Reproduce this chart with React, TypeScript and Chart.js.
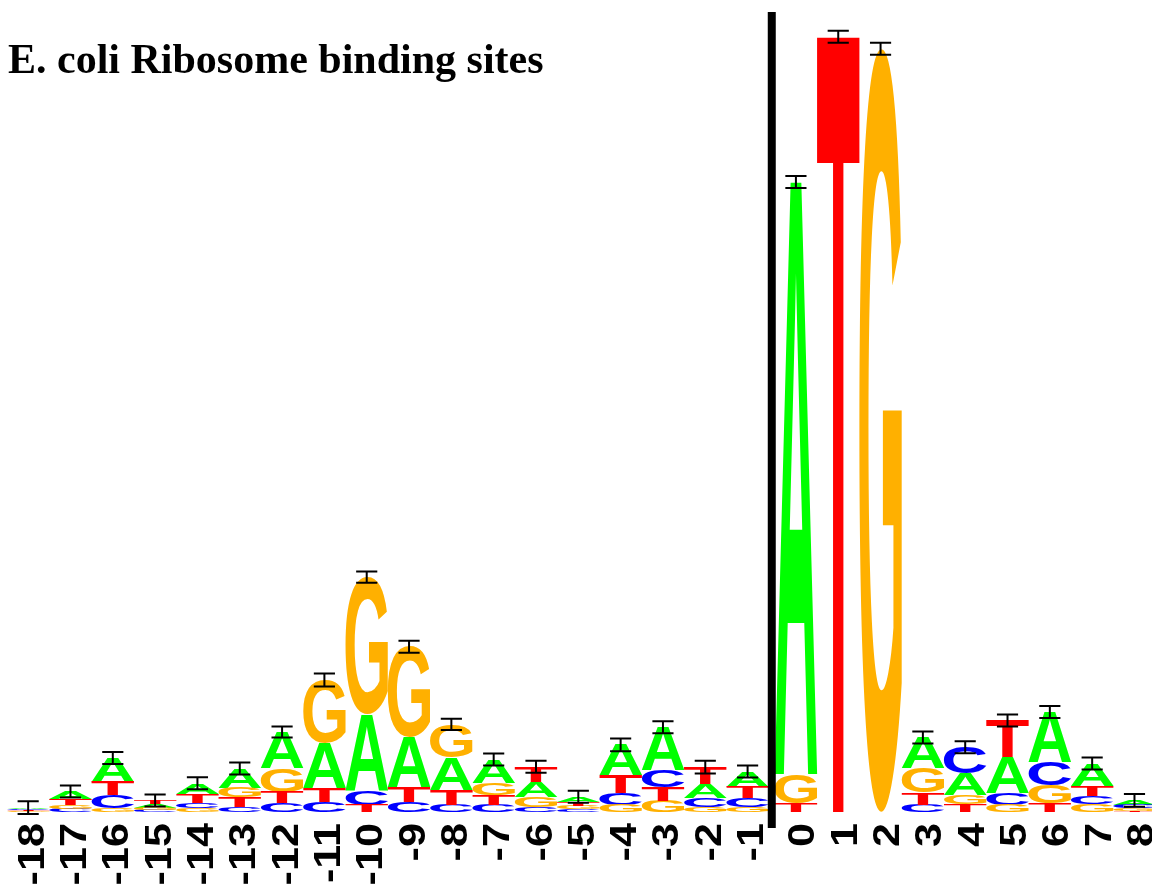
import React, { useEffect, useRef } from "react";
import { Chart, registerables } from "chart.js";

Chart.register(...registerables);

// ---- data (information content in bits) ----
const title = "E. coli Ribosome binding sites";
const positions = [-18, -17, -16, -15, -14, -13, -12, -11, -10, -9, -8, -7, -6, -5, -4, -3, -2, -1, 0, 1, 2, 3, 4, 5, 6, 7, 8];
const tickLabels = ["-18", "-17", "-16", "-15", "-14", "-13", "-12", "-11", "-10", "-9", "-8", "-7", "-6", "-5", "-4", "-3", "-2", "-1", "0", "1", "2", "3", "4", "5", "6", "7", "8"];
const letters = ["A", "C", "G", "T"];
const letterColors = ["#00ff00", "#0000ff", "#ffb000", "#ff0000"];
const bitsA = [0.004, 0.019, 0.06, 0.008, 0.026, 0.048, 0.09, 0.112, 0.188, 0.125, 0.081, 0.058, 0.037, 0.012, 0.075, 0.107, 0.035, 0.038, 1.48, 0, 0, 0.075, 0.055, 0.09, 0.125, 0.055, 0.012];
const bitsC = [0.003, 0.008, 0.032, 0.005, 0.012, 0.012, 0.022, 0.025, 0.038, 0.025, 0.018, 0.018, 0.012, 0.007, 0.03, 0.043, 0.023, 0.023, 0, 0, 0, 0.018, 0.065, 0.03, 0.058, 0.021, 0.008];
const bitsG = [0.002, 0.009, 0.01, 0.006, 0.011, 0.025, 0.06, 0.158, 0.343, 0.225, 0.082, 0.03, 0.025, 0.009, 0.018, 0.027, 0.012, 0.012, 0.073, 0, 1.908, 0.063, 0.022, 0.018, 0.045, 0.02, 0.007];
const bitsT = [0.002, 0.015, 0.033, 0.01, 0.023, 0.024, 0.028, 0.035, 0.018, 0.038, 0.038, 0.025, 0.039, 0.01, 0.045, 0.035, 0.042, 0.028, 0.022, 1.938, 0, 0.03, 0.02, 0.091, 0.022, 0.025, 0.002];
const errBits = [0.016, 0.015, 0.015, 0.015, 0.015, 0.015, 0.014, 0.016, 0.014, 0.015, 0.014, 0.015, 0.015, 0.015, 0.016, 0.015, 0.016, 0.015, 0.015, 0.015, 0.015, 0.015, 0.015, 0.015, 0.015, 0.015, 0.016];

const letterBits = [bitsA, bitsC, bitsG, bitsT];

// ---- layout constants ----
const W = 1152;
const H = 884;
const PAD_LEFT = 7;
const COL_PX = 42.32;
const SPAN = (W - PAD_LEFT) / COL_PX;
const GAP = 6 / COL_PX;
const GLYPH_PX = 800;

function buildDatasets() {
  const ranges: { [k: string]: Array<[number, number] | null> } = {};
  letters.forEach((l) => (ranges[l] = []));
  positions.forEach((_, i) => {
    const order = letters
      .map((l, li) => ({ l, v: letterBits[li][i] }))
      .sort((a, b) => a.v - b.v);
    let acc = 0;
    order.forEach(({ l, v }) => {
      ranges[l][i] = v > 0 ? [acc, acc + v] : null;
      acc += v;
    });
  });
  const sets: any[] = [];
  (["xl", "xr"] as const).forEach((axis) => {
    letters.forEach((l) => {
      const data: any[] = [];
      positions.forEach((p, i) => {
        const onSide = axis === "xl" ? p < 0 : p >= 0;
        const r = ranges[l][i];
        if (onSide && r) data.push({ x: p, y: r });
      });
      sets.push({
        label: l,
        xAxisID: axis,
        yAxisID: "y",
        data,
        grouped: false,
        barPercentage: 1,
        categoryPercentage: 1,
        backgroundColor: "rgba(0,0,0,0)",
        borderWidth: 0,
      });
    });
  });
  return sets;
}

const glyphCache: { [k: string]: { gl: number; ga: number; gw: number; gh: number } } = {};

function glyphMetrics(ctx: CanvasRenderingContext2D, ch: string) {
  if (glyphCache[ch]) return glyphCache[ch];
  // measure ink bounds by rasterising the glyph on an offscreen canvas
  const size = GLYPH_PX;
  const c = document.createElement("canvas");
  c.width = size * 1.5;
  c.height = size * 1.5;
  const g = c.getContext("2d")!;
  g.font = `bold ${size}px "Liberation Sans", Arial, sans-serif`;
  g.textAlign = "left";
  g.textBaseline = "alphabetic";
  g.fillStyle = "#000";
  const ox = size * 0.2;
  const oy = size * 1.2;
  g.fillText(ch, ox, oy);
  const img = g.getImageData(0, 0, c.width, c.height).data;
  let minX = c.width, maxX = -1, minY = c.height, maxY = -1;
  for (let y = 0; y < c.height; y++) {
    for (let x = 0; x < c.width; x++) {
      if (img[(y * c.width + x) * 4 + 3] > 127) {
        if (x < minX) minX = x;
        if (x > maxX) maxX = x;
        if (y < minY) minY = y;
        if (y > maxY) maxY = y;
      }
    }
  }
  const res = {
    gl: ox - minX,
    ga: oy - minY,
    gw: maxX - minX + 1,
    gh: maxY - minY + 1,
  };
  glyphCache[ch] = res;
  return res;
}

function drawGlyph(ctx: CanvasRenderingContext2D, ch: string, color: string, x: number, y: number, w: number, h: number) {
  if (h <= 0.05 || w <= 0) return;
  const m = glyphMetrics(ctx, ch);
  ctx.save();
  ctx.font = `bold ${GLYPH_PX}px "Liberation Sans", Arial, sans-serif`;
  ctx.textAlign = "left";
  ctx.textBaseline = "alphabetic";
  ctx.translate(x, y);
  ctx.scale(w / m.gw, h / m.gh);
  ctx.fillStyle = color;
  ctx.fillText(ch, m.gl, m.ga);
  ctx.restore();
}

const logoPlugin = {
  id: "logoPlugin",
  afterDatasetsDraw(chart: any) {
    const ctx: CanvasRenderingContext2D = chart.ctx;
    chart.data.datasets.forEach((ds: any, di: number) => {
      const meta = chart.getDatasetMeta(di);
      const color = letterColors[letters.indexOf(ds.label)];
      meta.data.forEach((el: any) => {
        const p = el.getProps(["x", "y", "base", "width"], true);
        const top = Math.min(p.y, p.base);
        const bottom = Math.max(p.y, p.base);
        drawGlyph(ctx, ds.label, color, p.x - p.width / 2, top, p.width, bottom - top);
      });
    });

    // error bars
    const yScale = chart.scales.y;
    ctx.save();
    ctx.strokeStyle = "#000";
    ctx.lineWidth = 2;
    positions.forEach((p, i) => {
      const axis = p < 0 ? chart.scales.xl : chart.scales.xr;
      const total = letterBits.reduce((s, arr) => s + arr[i], 0);
      const x = axis.getPixelForValue(p);
      const half = (axis.getPixelForValue(p + 1) - x) * 0.25;
      const yHi = yScale.getPixelForValue(total + errBits[i]);
      const yLo = yScale.getPixelForValue(total - errBits[i]);
      ctx.beginPath();
      ctx.moveTo(x, yHi);
      ctx.lineTo(x, yLo);
      ctx.moveTo(x - half, yHi);
      ctx.lineTo(x + half, yHi);
      ctx.moveTo(x - half, yLo);
      ctx.lineTo(x + half, yLo);
      ctx.stroke();
    });
    ctx.restore();
  },
  afterDraw(chart: any) {
    const ctx: CanvasRenderingContext2D = chart.ctx;
    const area = chart.chartArea;
    const xl = chart.scales.xl;
    const xr = chart.scales.xr;

    const xLine = (xl.getPixelForValue(-0.5) + xr.getPixelForValue(-0.5)) / 2;
    ctx.save();
    ctx.fillStyle = "#000";
    ctx.fillRect(xLine - 4, area.top, 8, area.bottom - area.top + 16);
    ctx.restore();

    ctx.save();
    ctx.fillStyle = "#000";
    ctx.font = 'bold 42px "Liberation Serif", "Times New Roman", serif';
    ctx.textAlign = "left";
    ctx.textBaseline = "alphabetic";
    ctx.fillText(title, 8, 73);
    ctx.restore();

    positions.forEach((p, i) => {
      const axis = p < 0 ? xl : xr;
      const off = p < 0 ? 2.5 : 5.5;
      const x = axis.getPixelForValue(p) + off + 13;
      ctx.save();
      ctx.translate(x, area.bottom + 11);
      ctx.rotate(-Math.PI / 2);
      ctx.scale(1.2, 1);
      ctx.fillStyle = "#000";
      ctx.font = 'bold 36px "Liberation Sans", Arial, sans-serif';
      ctx.textAlign = "right";
      ctx.textBaseline = "alphabetic";
      ctx.fillText(tickLabels[i], 0, 0);
      ctx.restore();
    });
  },
};

const hiddenLinear = (min: number, max: number) => ({
  type: "linear",
  display: false,
  offset: false,
  bounds: "data",
  grace: 0,
  min,
  max,
  grid: { offset: false, display: false },
  ticks: { display: false },
});

export default function App() {
  const ref = useRef<HTMLCanvasElement | null>(null);
  useEffect(() => {
    if (!ref.current) return;
    const chart = new Chart(ref.current, {
      type: "bar",
      data: { datasets: buildDatasets() },
      options: {
        animation: false,
        responsive: false,
        maintainAspectRatio: false,
        devicePixelRatio: 1,
        layout: { padding: { left: PAD_LEFT, right: 0, top: 12, bottom: 72 } },
        plugins: {
          legend: { display: false },
          tooltip: { enabled: false },
          title: { display: false },
        },
        scales: {
          xl: hiddenLinear(-18.5, -18.5 + SPAN),
          xr: hiddenLinear(-18.5 - GAP, -18.5 - GAP + SPAN),
          y: hiddenLinear(0, 2),
        },
      } as any,
      plugins: [logoPlugin],
    });
    return () => chart.destroy();
  }, []);
  return (
    <div style={{ position: "absolute", left: 0, top: 0, width: W, height: H, background: "#fff" }}>
      <canvas ref={ref} width={W} height={H} style={{ display: "block" }} />
    </div>
  );
}
